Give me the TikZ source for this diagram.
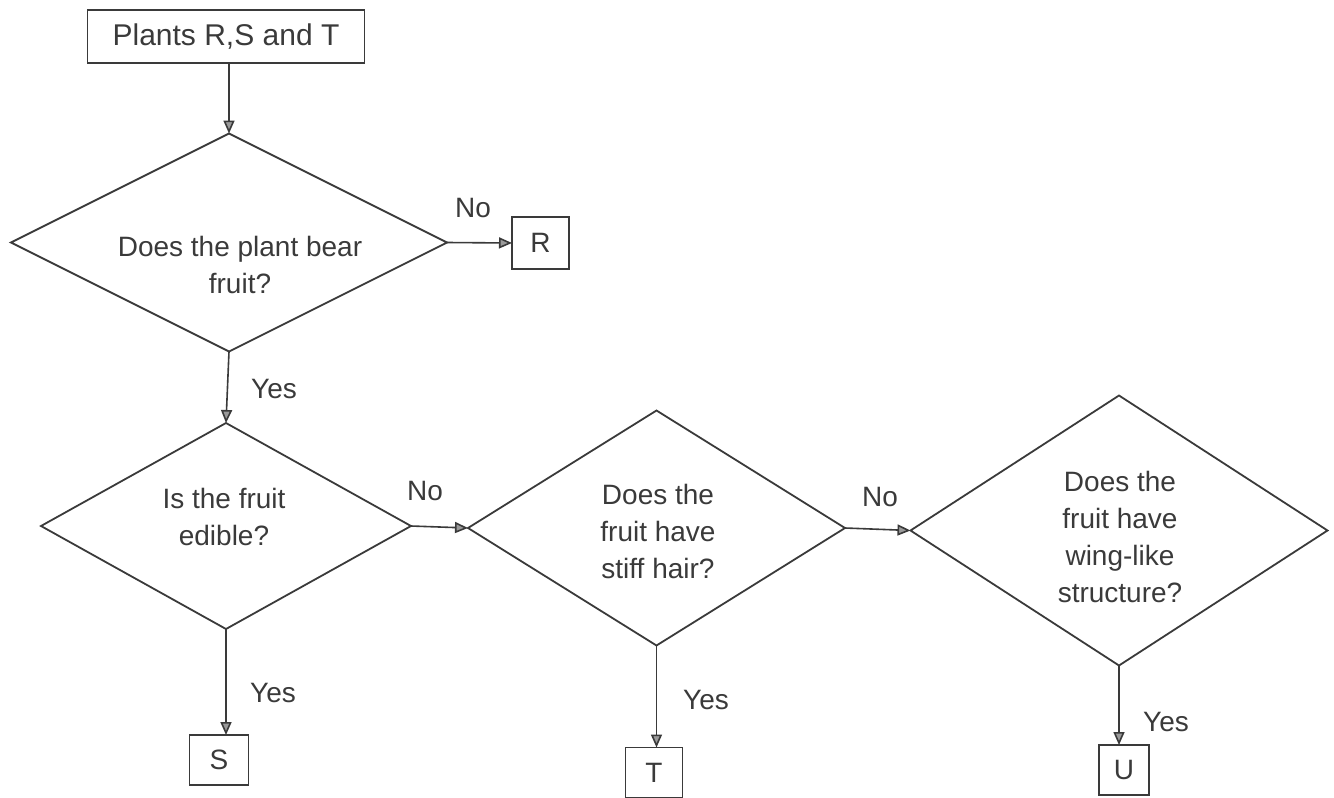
\documentclass[tikz,border=0pt]{standalone}
\usepackage{fontspec}
\setmainfont{Liberation Sans}
\usetikzlibrary{shapes.geometric,arrows.meta}
\definecolor{ink}{HTML}{3A3A3A}
\definecolor{tipfill}{HTML}{9A9A9A}
\begin{document}
\begin{tikzpicture}[x=0.5pt,y=-0.5pt,
  every node/.style={font=\fontsize{14}{18.5}\selectfont, text=ink},
  box/.style={draw=ink, line width=0.9pt, rectangle, inner sep=0pt, outer sep=0pt},
  dec/.style={draw=ink, line width=0.9pt, diamond, inner sep=0pt, outer sep=0pt},
  qtext/.style={align=center, inner sep=0pt},
  lbl/.style={inner sep=0pt},
  arr/.style={draw=ink, line width=0.8pt, -{Triangle[length=6.5pt,width=5.5pt,fill=tipfill]}}]
\useasboundingbox (0,0) rectangle (1334,798);

% boxes
\node[box, minimum width=138.5pt, minimum height=26.5pt, font=\fontsize{15}{18}\selectfont] (start) at (226,36.5) {Plants R,S and T};
\node[box, minimum width=28.5pt, minimum height=26pt] (R) at (540.5,243) {R};
\node[box, minimum width=29.5pt, minimum height=25pt] (S) at (219,760) {S};
\node[box, minimum width=28.5pt, minimum height=25pt] (T) at (654,772.5) {T};
\node[box, minimum width=25pt, minimum height=25pt] (U) at (1124,770) {U};

% decisions
\node[dec, minimum width=218pt, minimum height=109pt] (d1) at (229,242.5) {};
\node[dec, minimum width=185pt, minimum height=103pt] (d2) at (226,526) {};
\node[dec, minimum width=188.5pt, minimum height=117.5pt] (d3) at (656.5,528) {};
\node[dec, minimum width=208.5pt, minimum height=135pt] (d4) at (1119,530.5) {};

% decision texts
\node[qtext] (t1) at (240,265) {Does the plant bear\\fruit?};
\node[qtext] (t2) at (224,517) {Is the fruit\\edible?};
\node[qtext] (t3) at (658,531) {Does the\\fruit have\\stiff hair?};
\node[qtext] (t4) at (1120,537) {Does the\\fruit have\\wing-like\\structure?};

% connectors
\draw[arr] (start.south -| d1.north) -- (d1.north);
\draw[arr] (d1.east) -- (R.west);
\draw[arr] (d1.south) -- (d2.north);
\draw[arr] (d2.east) -- (d3.west);
\draw[arr] (d3.east) -- (d4.west);
\draw[arr] (d2.south) -- (d2.south |- S.north);
\draw[arr] (d3.south) -- (d3.south |- T.north);
\draw[arr] (d4.south) -- (d4.south |- U.north);

% labels
\node[lbl] (l1) at (473,208) {No};
\node[lbl] (l2) at (274,389) {Yes};
\node[lbl] (l3) at (425,491) {No};
\node[lbl] (l4) at (880,497) {No};
\node[lbl] (l5) at (273,693) {Yes};
\node[lbl] (l6) at (706,700) {Yes};
\node[lbl] (l7) at (1166,722) {Yes};
\end{tikzpicture}
\end{document}
